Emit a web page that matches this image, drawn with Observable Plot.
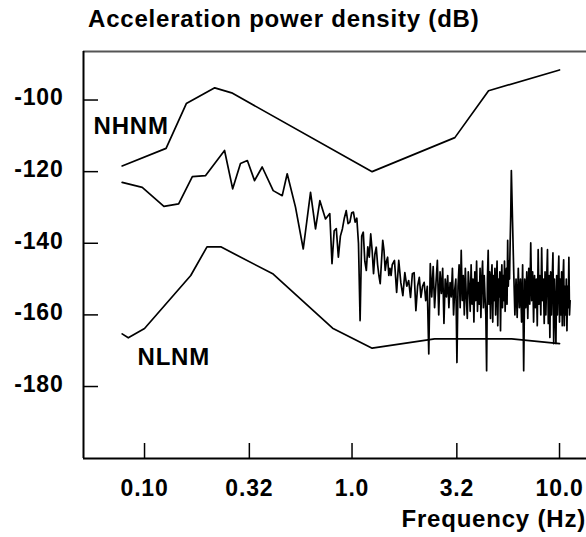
<!DOCTYPE html>
<html>
<head>
<meta charset="utf-8">
<script src="https://cdn.jsdelivr.net/npm/d3@7"></script>
<script src="https://cdn.jsdelivr.net/npm/@observablehq/plot@0.6"></script>
<style>
html, body { margin: 0; padding: 0; background: #fff; overflow: hidden; }
#wrap { position: relative; width: 586px; height: 537px; }
#wrap svg text { letter-spacing: 0.8px; }
.lbl { position: absolute; font-family: "Liberation Sans", Arial, sans-serif; font-weight: bold; font-size: 24px; line-height: 24px; letter-spacing: 0.8px; white-space: nowrap; color: #000; }
#title { left: 88px; top: 7px; }
#xlabel { right: 0px; top: 507px; }
</style>
</head>
<body>
<div id="wrap">
  <div id="chart"></div>
  <div class="lbl" id="title">Acceleration power density (dB)</div>
  <div class="lbl" id="xlabel">Frequency (Hz)</div>
</div>
<script>
// ---- axes ----
const xTicks = [0.1, 0.32, 1.0, 3.2, 10.0];
const xTickLabels = ["0.10", "0.32", "1.0", "3.2", "10.0"];
const yTicks = [-100, -120, -140, -160, -180];
const xDomain = [0.0508, 13.49];
const yDomain = [-200.1, -86.45];

// ---- New High Noise Model ----
const nhnmFreq = [0.078, 0.127, 0.159, 0.218, 0.263, 1.25, 3.13, 4.55, 10.0];
const nhnmDb   = [-118.4, -113.5, -101.0, -96.6, -98.0, -120.0, -110.5, -97.4, -91.6];

// ---- New Low Noise Model ----
const nlnmFreq = [0.078, 0.0835, 0.1, 0.167, 0.2, 0.233, 0.417, 0.806, 1.25, 2.5, 5.88, 10.0];
const nlnmDb   = [-165.3, -166.4, -163.8, -149.0, -141.0, -141.0, -148.6, -163.7, -169.3, -166.7, -166.7, -168.0];

// ---- measured spectrum, low-frequency part (read vertex by vertex) ----
const specLowFreq = [0.078, 0.0975, 0.124, 0.146, 0.170, 0.197, 0.243, 0.266, 0.290, 0.313, 0.339, 0.369, 0.417, 0.461, 0.487, 0.534, 0.582, 0.631, 0.667, 0.700, 0.745];
const specLowDb   = [-123.0, -124.4, -129.7, -129.0, -121.4, -121.1, -114.1, -124.8, -117.7, -116.9, -122.5, -118.7, -125.3, -126.7, -120.6, -129.9, -141.6, -125.8, -136.0, -128.1, -133.2];

// ---- measured spectrum, FFT bins (bin width 10/512 Hz) ----
const binWidth = 10 / 512;
// bins 40..80, every bin
const specMidDb = [
  -131.7, -145.7, -136.5, -135.9, -143.9, -138.0, -136.0, -133.0, -130.9, -134.5,
  -134.1, -131.5, -131.3, -134.1, -133.0, -140.0, -161.6, -138.0, -136.9, -145.0,
  -147.6, -141.0, -143.9, -137.4, -142.0, -148.5, -143.0, -141.1, -146.0, -149.0,
  -151.3, -145.0, -139.2, -142.0, -147.6, -145.0, -143.9, -149.0, -147.0, -149.0,
  -146.0
];
// bins 82..160, every 2nd bin
const specMid2Db = [
  -144.8, -153.7, -144.8, -151.0, -154.6, -148.2, -152.0, -150.4, -155.1, -148.5,
  -148.2, -158.8, -152.0, -149.5, -155.1, -152.0, -150.9, -156.0, -152.0, -170.9,
  -145.7, -155.0, -146.5, -158.0, -151.0, -144.8, -160.0, -148.0, -154.0, -147.0,
  -162.4, -150.0, -155.0, -149.0, -158.0, -151.0, -155.0, -147.0, -160.0, -153.0
];
// bins 162..298, every 2nd bin
const specDenseDb = [
  -150.0, -173.3, -152.0, -146.0, -158.0, -142.0, -156.0, -149.0, -160.0, -147.0,
  -155.0, -161.0, -148.0, -152.0, -159.0, -146.0, -157.0, -150.0, -162.0, -148.0,
  -156.0, -145.0, -159.0, -151.0, -157.0, -147.0, -160.7, -150.0, -145.0, -158.0,
  -149.0, -155.0, -160.0, -175.6, -150.0, -142.0, -157.0, -148.0, -161.0, -150.0,
  -146.0, -162.0, -149.0, -156.0, -147.0, -160.0, -151.0, -145.0, -163.0, -150.0,
  -155.0, -148.0, -164.4, -151.0, -146.0, -158.0, -149.0, -156.0, -145.0, -159.0,
  -150.0, -147.0, -157.0, -139.2, -152.0, -145.0, -150.0, -140.0, -132.0
];
// bins 300..576, every 4th bin
const specHighDb = [
  -119.7, -134.0, -148.0, -160.0, -150.0, -160.7,
  -147.0, -158.0, -150.0, -162.0, -146.0, -175.6, -150.0, -158.0, -148.0, -161.0,
  -147.0, -157.0, -139.9, -156.0, -148.0, -162.0, -149.0, -158.0, -150.0, -163.0,
  -141.8, -157.0, -149.0, -160.0, -141.3, -156.0, -150.0, -162.4, -148.0, -160.0,
  -150.0, -141.8, -162.4, -149.0, -166.3, -148.0, -160.0, -150.0, -142.7, -168.0,
  -150.0, -158.0, -168.0, -149.0, -160.0, -150.0, -143.6, -162.0, -150.0, -160.0,
  -148.0, -163.0, -150.0, -144.6, -163.0, -152.0, -160.0, -150.0, -164.4, -152.0,
  -158.0, -143.9, -160.0, -156.0
];

// ---- curve labels ----
const curveNames = ["NHNM", "NLNM"];
const curveLabelFreq = [0.0568, 0.0925];
const curveLabelDb = [-107.4, -171.9];

// ---- build tables ----
const nhnm = nhnmFreq.map((f, i) => ({f, db: nhnmDb[i]}));
const nlnm = nlnmFreq.map((f, i) => ({f, db: nlnmDb[i]}));
const spec = [
  ...specLowFreq.map((f, i) => ({f, db: specLowDb[i]})),
  ...specMidDb.map((db, i) => ({f: (40 + i) * binWidth, db})),
  ...specMid2Db.map((db, i) => ({f: (82 + 2 * i) * binWidth, db})),
  ...specDenseDb.map((db, i) => ({f: (162 + 2 * i) * binWidth, db})),
  ...specHighDb.map((db, i) => ({f: (300 + 4 * i) * binWidth, db}))
];
const labels = curveNames.map((name, i) => ({name, f: curveLabelFreq[i], db: curveLabelDb[i]}));

const W = 586, H = 537, mL = 83, mR = 0, mT = 51, mB = 79;
const frameW = W - mL - mR, frameH = H - mT - mB;
const font = "'Liberation Sans', Arial, sans-serif";

const chart = Plot.plot({
  width: W, height: H,
  marginLeft: mL, marginRight: mR, marginTop: mT, marginBottom: mB,
  x: {type: "log", domain: xDomain},
  y: {domain: yDomain},
  style: {fontFamily: font, fontWeight: "bold", color: "#000", background: "#fff", overflow: "visible"},
  marks: [
    Plot.line(nhnm, {x: "f", y: "db", stroke: "#000", strokeWidth: 1.7}),
    Plot.line(nlnm, {x: "f", y: "db", stroke: "#000", strokeWidth: 1.7}),
    Plot.line(spec, {x: "f", y: "db", stroke: "#000", strokeWidth: 1.7}),
    Plot.ruleY([yDomain[1]], {stroke: "#555", strokeWidth: 2}),
    Plot.ruleY([yDomain[0]], {stroke: "#000", strokeWidth: 2}),
    Plot.ruleX([xDomain[0]], {stroke: "#000", strokeWidth: 2}),
    Plot.tickY(yTicks, {y: d => d, stroke: "#000", strokeWidth: 1.5, insetRight: frameW - 15}),
    Plot.tickX(xTicks, {x: d => d, stroke: "#000", strokeWidth: 1.5, insetTop: frameH - 15}),
    Plot.axisY({ticks: yTicks, label: null, tickSize: 0, tickPadding: 20, fontSize: 23, fontWeight: "bold", dy: -2, tickFormat: d => String(d)}),
    Plot.axisX({ticks: xTicks, label: null, tickSize: 0, tickPadding: 21, fontSize: 23, fontWeight: "bold", tickFormat: d => xTickLabels[xTicks.indexOf(d)]}),
    Plot.text(labels, {x: "f", y: "db", text: "name", textAnchor: "start", fontSize: 24, fontWeight: "bold", fill: "#000"})
  ]
});
document.getElementById("chart").appendChild(chart);
</script>
</body>
</html>
